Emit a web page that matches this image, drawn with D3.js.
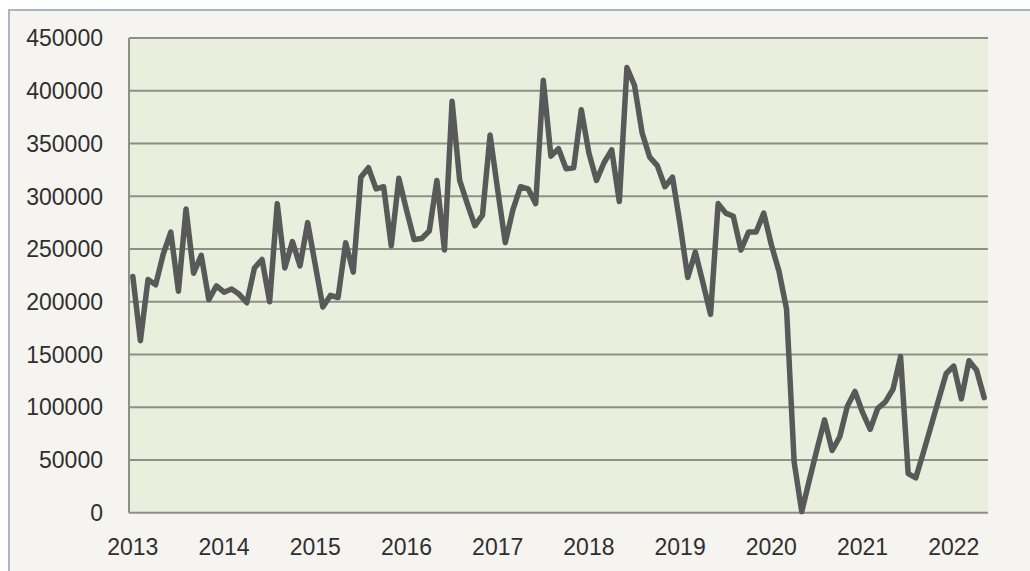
<!DOCTYPE html>
<html>
<head>
<meta charset="utf-8">
<script src="https://cdn.jsdelivr.net/npm/d3@7"></script>
<style>
  body { margin: 0; background: #ffffff; }
  svg { display: block; }
  .tick-label { font-family: "Liberation Sans", Arial, sans-serif; font-size: 23px; fill: #2f2f2f; }
</style>
</head>
<body>
<svg width="1030" height="571"></svg>
<script>
// monthly values, Jan 2013 .. May 2022
const values = [
  224000, 163000, 221000, 216000, 245000, 266000, 210000, 288000, 227000, 244000, 202000, 215000,
  209000, 212000, 207000, 199000, 232000, 240000, 200000, 293000, 232000, 257000, 234000, 275000,
  235000, 195000, 206000, 204000, 256000, 228000, 318000, 327000, 307000, 309000, 253000, 317000,
  287000, 259000, 260000, 267000, 315000, 249000, 390000, 315000, 293000, 272000, 282000, 358000,
  306000, 256000, 287000, 309000, 307000, 293000, 410000, 338000, 345000, 326000, 327000, 382000,
  341000, 315000, 332000, 344000, 295000, 422000, 405000, 360000, 337000, 329000, 309000, 318000,
  273000, 223000, 247000, 218000, 188000, 293000, 284000, 281000, 249000, 266000, 266000, 284000,
  254000, 229000, 193000, 48000, 1000, 31000, 60000, 88000, 59000, 72000, 101000, 115000,
  95000, 79000, 99000, 105000, 117000, 148000, 37000, 33000, 57000, 82000, 107000, 132000,
  139000, 108000, 144000, 135000, 109000
];
const yearLabels = ["2013", "2014", "2015", "2016", "2017", "2018", "2019", "2020", "2021", "2022"];
const yTicks = [0, 50000, 100000, 150000, 200000, 250000, 300000, 350000, 400000, 450000];

const svg = d3.select("svg");
const plot = { left: 129, right: 988, top: 38, bottom: 512.7 };

// categories: one per month, named "YYYY-MM"
const categories = values.map(function (d, i) {
  const y = 2013 + Math.floor(i / 12), m = (i % 12) + 1;
  return y + "-" + (m < 10 ? "0" + m : m);
});

// outer chart frame
svg.append("rect")
  .attr("x", 9).attr("y", 10)
  .attr("width", 1040).attr("height", 580)
  .attr("fill", "#f6f4f0")
  .attr("stroke", "#aab6c6")
  .attr("stroke-width", 2);

let xscale = d3.scalePoint().domain(categories).range([plot.left, plot.right]).padding(0.5),
    yscale = d3.scaleLinear().domain([0, 450000]).range([plot.bottom, plot.top]);

// plot area
svg.append("rect")
  .attr("x", plot.left).attr("y", plot.top)
  .attr("width", plot.right - plot.left).attr("height", plot.bottom - plot.top)
  .attr("fill", "#e9efdc");

// grid lines
svg.append("g")
  .selectAll("line")
  .data(yTicks)
  .enter()
  .append("line")
  .attr("x1", plot.left).attr("x2", plot.right)
  .attr("y1", d => yscale(d)).attr("y2", d => yscale(d))
  .attr("stroke", "#8d9088")
  .attr("stroke-width", 2);

// left axis line
svg.append("line")
  .attr("x1", plot.left).attr("x2", plot.left)
  .attr("y1", plot.top).attr("y2", plot.bottom)
  .attr("stroke", "#8d9088")
  .attr("stroke-width", 2);

// y labels
svg.append("g")
  .selectAll("text")
  .data(yTicks)
  .enter()
  .append("text")
  .attr("class", "tick-label")
  .attr("x", 103)
  .attr("y", d => yscale(d))
  .attr("dy", "0.36em")
  .attr("text-anchor", "end")
  .text(d => d);

// x labels, one per year
svg.append("g")
  .selectAll("text")
  .data(yearLabels)
  .enter()
  .append("text")
  .attr("class", "tick-label")
  .attr("x", d => xscale(d + "-01"))
  .attr("y", 555)
  .attr("text-anchor", "middle")
  .text(d => d);

// data line
let line = d3.line()
  .x((d, i) => xscale(categories[i]))
  .y(d => yscale(d));

svg.append("path")
  .datum(values)
  .attr("fill", "none")
  .attr("stroke", "#595959")
  .attr("stroke-width", 5.5)
  .attr("stroke-linejoin", "round")
  .attr("stroke-linecap", "round")
  .attr("d", line);
</script>
</body>
</html>
